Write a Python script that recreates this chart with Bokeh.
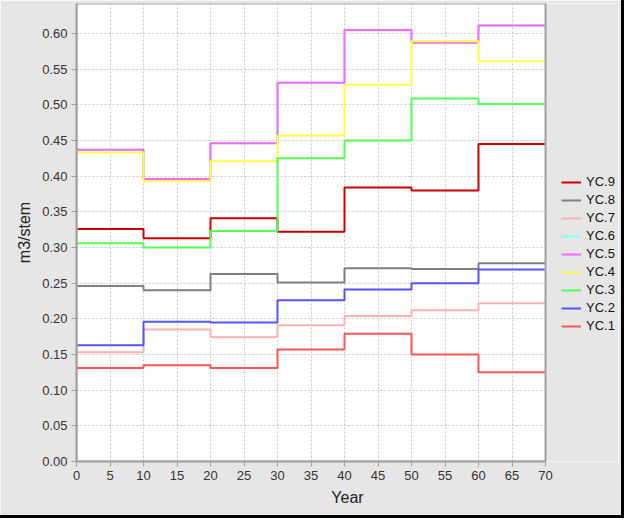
from bokeh.plotting import figure
from bokeh.models import (Range1d, FixedTicker, NumeralTickFormatter, Legend,
                          LegendItem, BoxAnnotation)
from bokeh.embed import file_html
from bokeh.resources import INLINE

# ---- data ----
years = [0, 10, 20, 30, 40, 50, 60, 70]
yc9 = [0.326, 0.313, 0.341, 0.322, 0.384, 0.380, 0.445]
yc8 = [0.246, 0.240, 0.263, 0.251, 0.271, 0.270, 0.278]
yc7 = [0.153, 0.185, 0.174, 0.191, 0.204, 0.212, 0.222]
yc6 = [0.437, 0.396, 0.446, 0.531, 0.605, 0.587, 0.611]
yc5 = [0.437, 0.396, 0.446, 0.531, 0.605, 0.587, 0.611]
yc4 = [0.433, 0.393, 0.421, 0.457, 0.528, 0.589, 0.561]
yc3 = [0.306, 0.300, 0.323, 0.425, 0.450, 0.509, 0.501]
yc2 = [0.163, 0.196, 0.195, 0.226, 0.241, 0.250, 0.269]
yc1 = [0.131, 0.135, 0.131, 0.157, 0.179, 0.150, 0.125]

series_names = ["YC.9", "YC.8", "YC.7", "YC.6", "YC.5", "YC.4", "YC.3", "YC.2", "YC.1"]
series_values = [yc9, yc8, yc7, yc6, yc5, yc4, yc3, yc2, yc1]
series_colors = ["#cc0000", "#808080", "#ffb0b0", "#80ffff", "#ff66ff",
                 "#ffff44", "#55ff55", "#5555ff", "#ff5555"]

x_ticks = [0, 5, 10, 15, 20, 25, 30, 35, 40, 45, 50, 55, 60, 65, 70]
y_ticks = [0.0, 0.05, 0.10, 0.15, 0.20, 0.25, 0.30, 0.35, 0.40, 0.45, 0.50, 0.55, 0.60]
x_min, x_max = 0, 70
y_min, y_max = 0, 0.642

FONT = "Liberation Sans"
GREY_BG = "#e6e6e6"
FRAME_COL = "#a0a0a0"

W, H = 621, 515
LEFT, RIGHT, TOP, BOTTOM = 76, 3, 3, 54
plot_px = 469                      # pixels between x=0 and x=70
frame_px = W - LEFT - RIGHT
x_end = x_max * frame_px / plot_px  # frame extends into the legend area

p = figure(width=W, height=H, output_backend="svg", toolbar_location=None,
           x_range=Range1d(x_min, x_end), y_range=Range1d(y_min, y_max),
           min_border_left=LEFT, min_border_right=RIGHT, min_border_top=TOP,
           min_border_bottom=BOTTOM,
           background_fill_color="white", border_fill_color=GREY_BG,
           outline_line_color=None,
           x_axis_label="Year", y_axis_label="m3/stem")
p.styles = {"box-shadow": "-3px 0 0 0 #000, 3px 0 0 0 #000, 0 3px 0 0 #000, "
                          "-3px 3px 0 0 #000, 3px 3px 0 0 #000"}

p.xaxis.ticker = FixedTicker(ticks=x_ticks)
p.yaxis.ticker = FixedTicker(ticks=y_ticks)
p.yaxis.formatter = NumeralTickFormatter(format="0.00")
p.xaxis.bounds = (x_min, x_max)

for ax in (p.xaxis, p.yaxis):
    ax.axis_line_color = FRAME_COL
    ax.axis_line_width = 2
    ax.major_tick_line_color = FRAME_COL
    ax.major_tick_out = 5
    ax.major_tick_in = 0
    ax.minor_tick_line_color = None
    ax.major_label_text_font = FONT
    ax.major_label_text_font_size = "13px"
    ax.major_label_text_color = "#333333"
    ax.axis_label_text_font = FONT
    ax.axis_label_text_font_size = "16px"
    ax.axis_label_text_font_style = "normal"
    ax.axis_label_text_color = "#222222"
p.xaxis.major_label_standoff = 4
p.yaxis.major_label_standoff = 4
p.xaxis.axis_label_standoff = 6
p.yaxis.axis_label_standoff = 6

p.grid.grid_line_color = "#c8c8c8"
p.grid.grid_line_dash = "2 2"
p.grid.grid_line_width = 1

items = []
for name, vals, col in zip(series_names, series_values, series_colors):
    r = p.step(years, vals + [vals[-1]], mode="after", line_color=col, line_width=2)
    items.append(LegendItem(label=name, renderers=[r]))

# grey area right of the plot (legend area) and the plot outline
p.add_layout(BoxAnnotation(left=x_max, fill_color=GREY_BG, fill_alpha=1.0,
                           line_color=None))
p.add_layout(BoxAnnotation(left=x_min, right=x_max, fill_color=None,
                           line_color=FRAME_COL, line_width=2, line_alpha=1.0))

legend = Legend(items=items, location=(485, 128), padding=0, margin=0,
                spacing=3, glyph_width=20, glyph_height=14, label_height=14,
                label_standoff=5, label_text_font=FONT, label_text_font_size="13px",
                label_text_color="#111111", background_fill_alpha=0,
                border_line_alpha=0)
p.add_layout(legend)

open("out.html", "w").write(file_html(p, INLINE))
